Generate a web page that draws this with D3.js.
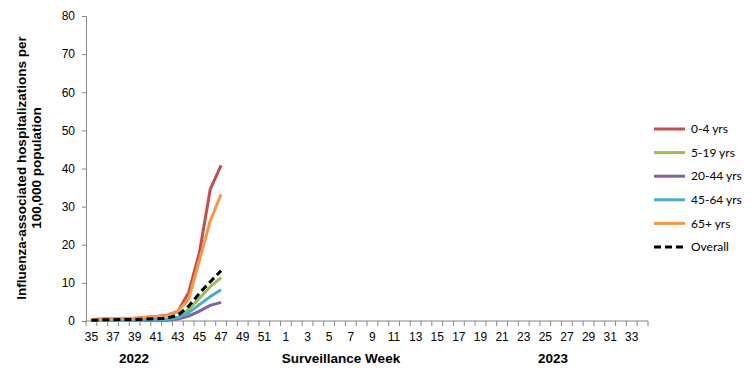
<!DOCTYPE html>
<html>
<head>
<meta charset="utf-8">
<script src="https://cdn.jsdelivr.net/npm/d3@7"></script>
<style>
  body { margin: 0; background: #fff; }
  svg { display: block; }
</style>
</head>
<body>
<div id="chart"></div>
<script>
// surveillance weeks 35-52 of 2022, then 1-34 of 2023
const weeks = [35,36,37,38,39,40,41,42,43,44,45,46,47,48,49,50,51,52,
  1,2,3,4,5,6,7,8,9,10,11,12,13,14,15,16,17,18,19,20,21,22,23,24,25,26,27,28,29,30,31,32,33,34];
const dataWeeks = [35,36,37,38,39,40,41,42,43,44,45,46,47];

const seriesNames = ["0-4 yrs", "5-19 yrs", "20-44 yrs", "45-64 yrs", "65+ yrs", "Overall"];
const age0to4   = [0.3,0.5,0.5,0.6,0.7,0.9,1.2,1.5,2.5,7.5,18.0,34.6,40.8];
const age5to19  = [0.1,0.2,0.2,0.2,0.2,0.3,0.4,0.5,1.0,3.0,6.0,9.0,11.4];
const age20to44 = [0.1,0.1,0.1,0.1,0.1,0.1,0.2,0.2,0.5,1.3,2.6,4.1,4.9];
const age45to64 = [0.1,0.1,0.1,0.1,0.2,0.2,0.3,0.4,0.9,2.2,4.3,6.4,8.2];
const age65plus = [0.3,0.5,0.6,0.7,0.8,1.0,1.2,1.4,2.6,5.7,16.0,26.3,33.2];
const overall   = [0.2,0.3,0.3,0.4,0.4,0.5,0.6,0.8,1.5,3.9,7.3,10.3,13.2];
const yTicks = [0,10,20,30,40,50,60,70,80];

const seriesValues = [age0to4, age5to19, age20to44, age45to64, age65plus, overall];
const colors = ["#C0504D", "#9BBB59", "#8064A2", "#4BACC6", "#F79646", "#000000"];

const width = 756, height = 378;
const margin = {left: 86, right: 108, top: 16, bottom: 57};

const svg = d3.select("#chart").append("svg")
    .attr("width", width)
    .attr("height", height);

const x = d3.scaleBand()
    .domain(weeks)
    .range([margin.left, width - margin.right])
    .paddingInner(0).paddingOuter(0);

const y = d3.scaleLinear()
    .domain([0, 80])
    .range([height - margin.bottom, margin.top]);

const axisColor = "#868686";
const tickFont = "'Liberation Sans', Arial, sans-serif";

// y axis
const yAxis = svg.append("g")
    .attr("transform", `translate(${margin.left},0)`)
    .call(d3.axisLeft(y).tickValues(yTicks).tickSize(4).tickPadding(7));
yAxis.select(".domain").attr("stroke", axisColor);
yAxis.selectAll(".tick line").attr("stroke", axisColor);
yAxis.selectAll("text")
    .attr("fill", "#000")
    .style("font-family", tickFont)
    .style("font-size", "12px");

// x axis: ticks at category boundaries, labels every other week
const xg = svg.append("g")
    .attr("transform", `translate(0,${y(0)})`);
xg.append("line")
    .attr("x1", x.range()[0]).attr("x2", x.range()[1])
    .attr("stroke", axisColor);
xg.selectAll("line.tk")
    .data(weeks.concat(["end"]))
    .enter().append("line")
    .attr("class", "tk")
    .attr("x1", d => d === "end" ? x.range()[1] : x(d))
    .attr("x2", d => d === "end" ? x.range()[1] : x(d))
    .attr("y1", 0).attr("y2", 5)
    .attr("stroke", axisColor);
xg.selectAll("text")
    .data(weeks.filter((d, i) => i % 2 === 0))
    .enter().append("text")
    .attr("x", d => x(d) + x.bandwidth() / 2)
    .attr("y", 20)
    .attr("text-anchor", "middle")
    .style("font-family", tickFont)
    .style("font-size", "12px")
    .text(d => d);

// lines
const line = d3.line()
    .x((d, i) => x(dataWeeks[i]) + x.bandwidth() / 2)
    .y(d => y(d));

svg.append("g")
    .selectAll("path")
    .data(seriesValues)
    .enter().append("path")
    .attr("fill", "none")
    .attr("stroke", (d, i) => colors[i])
    .attr("stroke-width", 3)
    .attr("stroke-linejoin", "round")
    .attr("stroke-dasharray", (d, i) => i === 5 ? "7,4" : null)
    .attr("d", line);

// axis titles
const titleFont = "'Liberation Sans', Arial, sans-serif";
svg.append("text")
    .attr("transform", "translate(26,168) rotate(-90)")
    .attr("text-anchor", "middle")
    .style("font-family", titleFont)
    .style("font-size", "13.5px")
    .style("font-weight", "bold")
    .selectAll("tspan")
    .data(["Influenza-associated hospitalizations per", "100,000  population"])
    .enter().append("tspan")
    .attr("x", 0)
    .attr("dy", (d, i) => i === 0 ? 0 : 15)
    .text(d => d);

svg.append("text")
    .attr("x", 341).attr("y", 363)
    .attr("text-anchor", "middle")
    .style("font-family", titleFont)
    .style("font-size", "13.5px")
    .style("font-weight", "bold")
    .text("Surveillance Week");

svg.selectAll("text.year")
    .data([{label: "2022", x: 134}, {label: "2023", x: 553}])
    .enter().append("text")
    .attr("class", "year")
    .attr("x", d => d.x).attr("y", 363)
    .attr("text-anchor", "middle")
    .style("font-family", titleFont)
    .style("font-size", "13.5px")
    .style("font-weight", "bold")
    .text(d => d.label);

// legend
const legend = svg.append("g")
    .selectAll("g")
    .data(seriesNames)
    .enter().append("g")
    .attr("transform", (d, i) => `translate(654,${129 + i * 23.6})`);
legend.append("line")
    .attr("x1", 0).attr("x2", 31)
    .attr("stroke", (d, i) => colors[i])
    .attr("stroke-width", 3)
    .attr("stroke-dasharray", (d, i) => i === 5 ? "7,4" : null);
legend.append("text")
    .attr("x", 37)
    .attr("dy", "0.35em")
    .style("font-family", "Lato, 'Open Sans', sans-serif")
    .style("font-size", "12px")
    .text(d => d);
</script>
</body>
</html>
